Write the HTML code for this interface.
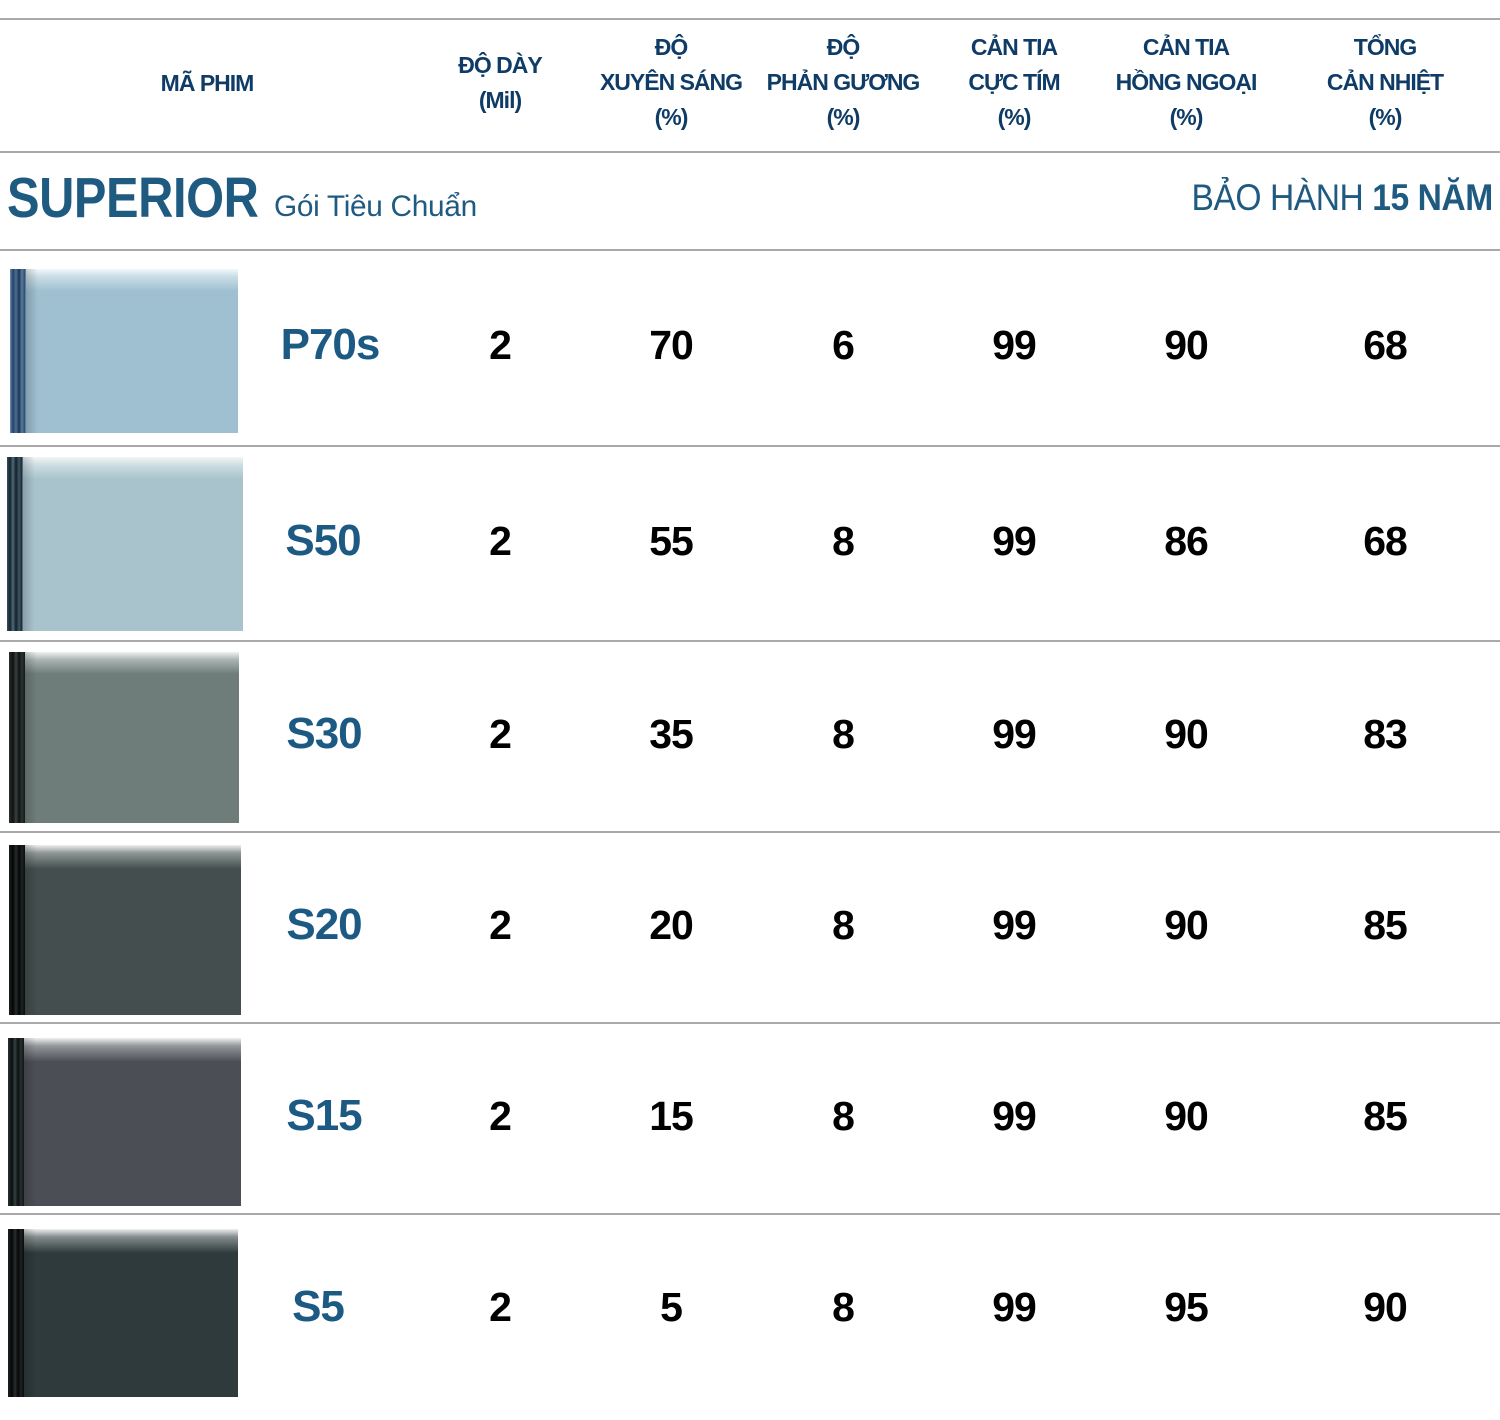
<!DOCTYPE html>
<html><head><meta charset="utf-8">
<style>
*{margin:0;padding:0;box-sizing:border-box}
html,body{width:1500px;height:1420px;background:#fff;overflow:hidden}
body{position:relative;font-family:"Liberation Sans","Noto Sans CJK SC",sans-serif}
.ln{position:absolute;left:0;width:1500px;height:2px;background:#a9a9a9}
.h{position:absolute;transform:translateX(-50%);text-align:center;white-space:nowrap;color:#0f3c66;font-weight:bold;font-size:23px;line-height:35px;letter-spacing:-1px}
.n{position:absolute;transform:translate(-50%,-50%);white-space:nowrap;color:#000;font-weight:bold;font-size:41px;line-height:50px;letter-spacing:-1px}
.c{position:absolute;transform:translate(-50%,-50%);white-space:nowrap;color:#1c5a84;font-weight:bold;font-size:44px;line-height:50px;letter-spacing:-1px}
.sw{position:absolute}
.sw .roll{position:absolute;left:0;top:0;bottom:0;width:16px}
.sw .sh{position:absolute;left:16px;top:0;bottom:0;width:12px;background:linear-gradient(to right,rgba(0,0,0,0.18),rgba(0,0,0,0))}
</style></head><body>

<div class="ln" style="top:18px"></div>
<div class="ln" style="top:151px"></div>
<div class="ln" style="top:249px"></div>
<div class="ln" style="top:445px"></div>
<div class="ln" style="top:640px"></div>
<div class="ln" style="top:831px"></div>
<div class="ln" style="top:1022px"></div>
<div class="ln" style="top:1213px"></div>

<!-- header -->
<div class="h" style="left:207px;top:66px">MÃ PHIM</div>
<div class="h" style="left:500px;top:48px">ĐỘ DÀY<br>(Mil)</div>
<div class="h" style="left:671px;top:30px">ĐỘ<br>XUYÊN SÁNG<br>(%)</div>
<div class="h" style="left:843px;top:30px">ĐỘ<br>PHẢN GƯƠNG<br>(%)</div>
<div class="h" style="left:1014px;top:30px">CẢN TIA<br>CỰC TÍM<br>(%)</div>
<div class="h" style="left:1186px;top:30px">CẢN TIA<br>HỒNG NGOẠI<br>(%)</div>
<div class="h" style="left:1385px;top:30px">TỔNG<br>CẢN NHIỆT<br>(%)</div>

<!-- section title -->
<div style="position:absolute;left:7px;top:168px;font-size:57px;line-height:60px;font-weight:bold;color:#1f5a80;white-space:nowrap;transform:scaleX(0.856);transform-origin:left top;letter-spacing:-0.5px">SUPERIOR</div>
<div style="position:absolute;left:274px;top:190px;font-size:29.8px;line-height:34px;color:#1f5a80;white-space:nowrap;letter-spacing:-0.3px">Gói Tiêu Chuẩn</div>
<div style="position:absolute;right:7px;top:177px;font-size:37px;line-height:42px;color:#1f5a80;white-space:nowrap;transform:scaleX(0.908);transform-origin:right top;letter-spacing:-0.5px">BẢO HÀNH <b>15 NĂM</b></div>

<!-- swatches -->
<div class="sw" style="left:10px;top:269px;width:228px;height:164px;background:linear-gradient(to bottom,#f4f8fa 0,#c8dce6 8px,#9fc0d1 22px,#9fc0d1 100%)">
  <div class="roll" style="background:linear-gradient(to right,#6f8fa8 0,#23416a 3px,#4d6f92 6px,#1c3458 9px,#5a7a9a 12px,#2a4a70 15px,#8fb0c4 16px)"></div><div class="sh"></div></div>
<div class="sw" style="left:7px;top:457px;width:236px;height:174px;background:linear-gradient(to bottom,#f2f6f7 0,#cddde2 8px,#a9c3cc 22px,#a9c3cc 100%)">
  <div class="roll" style="background:linear-gradient(to right,#3a5060 0,#15232e 3px,#4f6977 6px,#13202a 9px,#3d5563 12px,#1a2a35 15px,#8ea8b2 16px)"></div><div class="sh"></div></div>
<div class="sw" style="left:9px;top:652px;width:230px;height:171px;background:linear-gradient(to bottom,#f0f2f2 0,#a9b3b1 8px,#6f7d7a 22px,#6f7d7a 100%)">
  <div class="roll" style="background:linear-gradient(to right,#2a302f 0,#0e1211 4px,#3a4240 7px,#101514 10px,#2b3331 13px,#121817 16px)"></div><div class="sh"></div></div>
<div class="sw" style="left:9px;top:845px;width:232px;height:170px;background:linear-gradient(to bottom,#eef0f0 0,#8e9595 8px,#444e4e 24px,#444e4e 100%)">
  <div class="roll" style="background:linear-gradient(to right,#1a1e1e 0,#050707 4px,#262b2b 7px,#060808 10px,#1c2121 13px,#0a0c0c 16px)"></div><div class="sh"></div></div>
<div class="sw" style="left:8px;top:1038px;width:233px;height:168px;background:linear-gradient(to bottom,#eeeff0 0,#92959a 8px,#4b4f55 24px,#4b4f55 100%)">
  <div class="roll" style="background:linear-gradient(to right,#2a3032 0,#0b0e10 4px,#34403f 7px,#0c1012 10px,#28302f 13px,#101416 16px)"></div><div class="sh"></div></div>
<div class="sw" style="left:8px;top:1229px;width:230px;height:168px;background:linear-gradient(to bottom,#eef0f0 0,#848c8d 8px,#2e3a3b 24px,#2e3a3b 100%)">
  <div class="roll" style="background:linear-gradient(to right,#1c2222 0,#050707 4px,#262e2e 7px,#060808 10px,#1c2222 13px,#080a0a 16px)"></div><div class="sh"></div></div>

<!-- row 1 -->
<div class="c" style="left:330px;top:345px">P70s</div>
<div class="n" style="left:500px;top:345px">2</div>
<div class="n" style="left:671px;top:345px">70</div>
<div class="n" style="left:843px;top:345px">6</div>
<div class="n" style="left:1014px;top:345px">99</div>
<div class="n" style="left:1186px;top:345px">90</div>
<div class="n" style="left:1385px;top:345px">68</div>
<!-- row 2 -->
<div class="c" style="left:323px;top:541px">S50</div>
<div class="n" style="left:500px;top:541px">2</div>
<div class="n" style="left:671px;top:541px">55</div>
<div class="n" style="left:843px;top:541px">8</div>
<div class="n" style="left:1014px;top:541px">99</div>
<div class="n" style="left:1186px;top:541px">86</div>
<div class="n" style="left:1385px;top:541px">68</div>
<!-- row 3 -->
<div class="c" style="left:324px;top:734px">S30</div>
<div class="n" style="left:500px;top:734px">2</div>
<div class="n" style="left:671px;top:734px">35</div>
<div class="n" style="left:843px;top:734px">8</div>
<div class="n" style="left:1014px;top:734px">99</div>
<div class="n" style="left:1186px;top:734px">90</div>
<div class="n" style="left:1385px;top:734px">83</div>
<!-- row 4 -->
<div class="c" style="left:324px;top:925px">S20</div>
<div class="n" style="left:500px;top:925px">2</div>
<div class="n" style="left:671px;top:925px">20</div>
<div class="n" style="left:843px;top:925px">8</div>
<div class="n" style="left:1014px;top:925px">99</div>
<div class="n" style="left:1186px;top:925px">90</div>
<div class="n" style="left:1385px;top:925px">85</div>
<!-- row 5 -->
<div class="c" style="left:324px;top:1116px">S15</div>
<div class="n" style="left:500px;top:1116px">2</div>
<div class="n" style="left:671px;top:1116px">15</div>
<div class="n" style="left:843px;top:1116px">8</div>
<div class="n" style="left:1014px;top:1116px">99</div>
<div class="n" style="left:1186px;top:1116px">90</div>
<div class="n" style="left:1385px;top:1116px">85</div>
<!-- row 6 -->
<div class="c" style="left:318px;top:1307px">S5</div>
<div class="n" style="left:500px;top:1307px">2</div>
<div class="n" style="left:671px;top:1307px">5</div>
<div class="n" style="left:843px;top:1307px">8</div>
<div class="n" style="left:1014px;top:1307px">99</div>
<div class="n" style="left:1186px;top:1307px">95</div>
<div class="n" style="left:1385px;top:1307px">90</div>

</body></html>
